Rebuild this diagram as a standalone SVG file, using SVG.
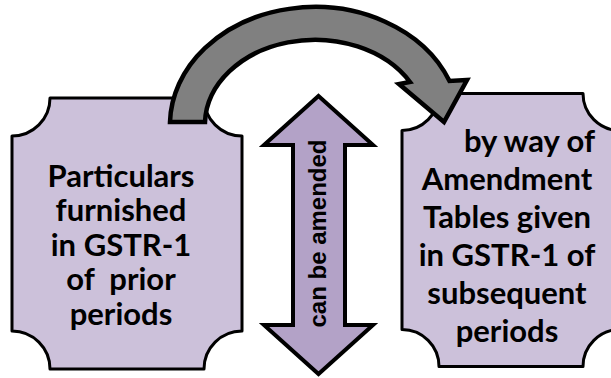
<svg xmlns="http://www.w3.org/2000/svg" width="611" height="378" viewBox="0 0 611 378">
  <style>
    .box { fill: #CCC1DA; stroke: #000; stroke-width: 3; stroke-linejoin: round; }
    .lbl { font-family: "Lato", "Carlito", "Liberation Sans", sans-serif; font-weight: bold; font-size: 31px; fill: #000; text-anchor: middle; }
    .dbl { fill: #B3A2C7; stroke: #000; stroke-width: 4; stroke-linejoin: miter; }
    .curve { fill: #808080; stroke: #000; stroke-width: 4.5; stroke-linejoin: miter; }
    .vlbl { font-family: "Liberation Sans", Arial, sans-serif; font-weight: bold; font-size: 24px; fill: #000; text-anchor: middle; }
  </style>
  <rect width="611" height="378" fill="#FFFFFF"/>
  <g id="node-left">
    <path class="box" d="M 50,98 H 204 A 38 38 0 0 0 242,136 V 331 A 38 38 0 0 0 204,369 H 50 A 38 38 0 0 0 12,331 V 136 A 38 38 0 0 0 50,98 Z"/>
    <text class="lbl" xml:space="preserve"><tspan x="121" y="186.5">Particulars</tspan><tspan x="121" y="221">furnished</tspan><tspan x="121" y="255.5">in GSTR-1</tspan><tspan x="121" y="290">of  prior</tspan><tspan x="121" y="324.5">periods</tspan></text>
  </g>
  <g id="node-right">
    <path class="box" d="M 439,93.5 H 583 A 37 37 0 0 0 620,130.5 V 329.5 A 37 37 0 0 0 583,366.5 H 439 A 37 37 0 0 0 402,329.5 V 130.5 A 37 37 0 0 0 439,93.5 Z"/>
    <text class="lbl"><tspan x="529.5" y="152">by way of</tspan><tspan x="507" y="190">Amendment</tspan><tspan x="507" y="228">Tables given</tspan><tspan x="507" y="266">in GSTR-1 of</tspan><tspan x="507" y="304">subsequent</tspan><tspan x="507" y="342">periods</tspan></text>
  </g>
  <g id="node-amend">
    <path class="dbl" d="M 318.5,96 L 373,145 L 345,145 L 345,325 L 373,325 L 318.5,374 L 264,325 L 293,325 L 293,145 L 264,145 Z"/>
    <text class="vlbl" transform="translate(326,233.5) rotate(-90)">can be amended</text>
  </g>
  <g id="connectors">
    <path class="curve" d="M 170,122 A 145 118 0 0 1 449.5,81 L 467,80 L 444,122 L 399,84 L 410,82 A 110 85 0 0 0 205,122 Z"/>
  </g>
</svg>
